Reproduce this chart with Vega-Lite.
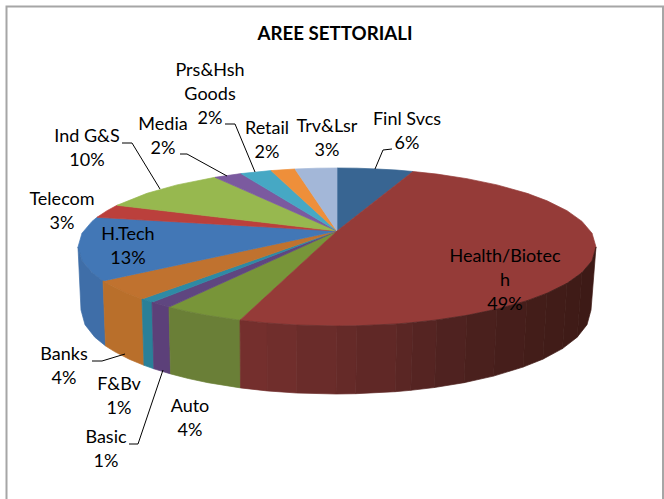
{"$schema":"https://vega.github.io/schema/vega-lite/v6.json","width":664,"height":499,"padding":0,"autosize":{"type":"none"},"background":"white","config":{"view":{"stroke":null},"font":"Lato"},"title":{"text":"AREE SETTORIALI","font":"Lato","fontSize":18.7,"fontWeight":"bold","color":"#000000","anchor":"middle","dy":48,"dx":3},"datasets":{"frame":[{"i":0,"u":-330.5,"v":-268},{"i":1,"u":-330.5,"v":224.5},{"i":2,"u":326,"v":224.5},{"i":3,"u":326,"v":-268}],"pieces":[
{"p":"Finl Svcs","i":0,"u":0,"v":0},{"p":"Finl Svcs","i":1,"u":0,"v":63},{"p":"Finl Svcs","i":2,"u":20,"v":62.8},{"p":"Finl Svcs","i":3,"u":40,"v":62},{"p":"Finl Svcs","i":4,"u":60,"v":60.9},{"p":"Finl Svcs","i":5,"u":76,"v":59.5},
{"p":"Auto","i":0,"u":0,"v":0},{"p":"Auto","i":1,"u":-97,"v":-89.2},{"p":"Auto","i":2,"u":-130,"v":-84.3},{"p":"Auto","i":3,"u":-150,"v":-80.4},{"p":"Auto","i":4,"u":-168,"v":-76.1},
{"p":"Basic","i":0,"u":0,"v":0},{"p":"Basic","i":1,"u":-168,"v":-76.1},{"p":"Basic","i":2,"u":-185,"v":-71.3},
{"p":"F&Bv","i":0,"u":0,"v":0},{"p":"F&Bv","i":1,"u":-185,"v":-71.3},{"p":"F&Bv","i":2,"u":-195,"v":-68},
{"p":"Banks","i":0,"u":0,"v":0},{"p":"Banks","i":1,"u":-195,"v":-68},{"p":"Banks","i":2,"u":-210,"v":-62.2},{"p":"Banks","i":3,"u":-225,"v":-55.1},{"p":"Banks","i":4,"u":-234,"v":-49.9},
{"p":"H.Tech","i":0,"u":0,"v":0},{"p":"H.Tech","i":1,"u":-234,"v":-49.9},{"p":"H.Tech","i":2,"u":-245,"v":-41.6},{"p":"H.Tech","i":3,"u":-255,"v":-29.8},{"p":"H.Tech","i":4,"u":-259,"v":-16},{"p":"H.Tech","i":5,"u":-255,"v":-2.2},{"p":"H.Tech","i":6,"u":-245,"v":9.6},{"p":"H.Tech","i":7,"u":-240,"v":13.7},
{"p":"Telecom","i":0,"u":0,"v":0},{"p":"Telecom","i":1,"u":-240,"v":13.7},{"p":"Telecom","i":2,"u":-230,"v":20.3},{"p":"Telecom","i":3,"u":-220,"v":25.7},
{"p":"Ind G&S","i":0,"u":0,"v":0},{"p":"Ind G&S","i":1,"u":-220,"v":25.7},{"p":"Ind G&S","i":2,"u":-190,"v":37.7},{"p":"Ind G&S","i":3,"u":-160,"v":46.1},{"p":"Ind G&S","i":4,"u":-122,"v":53.7},
{"p":"Media","i":0,"u":0,"v":0},{"p":"Media","i":1,"u":-122,"v":53.7},{"p":"Media","i":2,"u":-96,"v":57.4},
{"p":"Prs&Hsh Goods","i":0,"u":0,"v":0},{"p":"Prs&Hsh Goods","i":1,"u":-96,"v":57.4},{"p":"Prs&Hsh Goods","i":2,"u":-66,"v":60.4},
{"p":"Retail","i":0,"u":0,"v":0},{"p":"Retail","i":1,"u":-66,"v":60.4},{"p":"Retail","i":2,"u":-42,"v":62},
{"p":"Trv&Lsr","i":0,"u":0,"v":0},{"p":"Trv&Lsr","i":1,"u":-42,"v":62},{"p":"Trv&Lsr","i":2,"u":-20,"v":62.8},{"p":"Trv&Lsr","i":3,"u":0,"v":63},
{"p":"Health/Biotech","i":0,"u":0,"v":0},{"p":"Health/Biotech","i":1,"u":76,"v":59.5},{"p":"Health/Biotech","i":2,"u":100,"v":56.9},{"p":"Health/Biotech","i":3,"u":130,"v":52.3},{"p":"Health/Biotech","i":4,"u":160,"v":46.1},{"p":"Health/Biotech","i":5,"u":190,"v":37.7},{"p":"Health/Biotech","i":6,"u":210,"v":30.2},{"p":"Health/Biotech","i":7,"u":230,"v":20.3},{"p":"Health/Biotech","i":8,"u":245,"v":9.6},{"p":"Health/Biotech","i":9,"u":255,"v":-2.2},{"p":"Health/Biotech","i":10,"u":259,"v":-16},{"p":"Health/Biotech","i":11,"u":255,"v":-29.8},{"p":"Health/Biotech","i":12,"u":245,"v":-41.6},{"p":"Health/Biotech","i":13,"u":230,"v":-52.3},{"p":"Health/Biotech","i":14,"u":210,"v":-62.2},{"p":"Health/Biotech","i":15,"u":190,"v":-69.7},{"p":"Health/Biotech","i":16,"u":160,"v":-78.1},{"p":"Health/Biotech","i":17,"u":130,"v":-84.3},{"p":"Health/Biotech","i":18,"u":100,"v":-88.9},{"p":"Health/Biotech","i":19,"u":60,"v":-92.9},{"p":"Health/Biotech","i":20,"u":20,"v":-94.8},{"p":"Health/Biotech","i":21,"u":0,"v":-95},{"p":"Health/Biotech","i":22,"u":-40,"v":-94},{"p":"Health/Biotech","i":23,"u":-70,"v":-92},{"p":"Health/Biotech","i":24,"u":-97,"v":-89.2},
{"p":"H.Tech side","i":0,"u":-259,"v":-16},{"p":"H.Tech side","i":1,"u":-255,"v":-29.8},{"p":"H.Tech side","i":2,"u":-245,"v":-41.6},{"p":"H.Tech side","i":3,"u":-234,"v":-49.9},{"p":"H.Tech side","i":4,"u":-231.4,"v":-115},{"p":"H.Tech side","i":5,"u":-242.2,"v":-106.2},{"p":"H.Tech side","i":6,"u":-252,"v":-93.7},{"p":"H.Tech side","i":7,"u":-256,"v":-79},
{"p":"Banks side","i":0,"u":-234,"v":-49.9},{"p":"Banks side","i":1,"u":-225,"v":-55.1},{"p":"Banks side","i":2,"u":-210,"v":-62.2},{"p":"Banks side","i":3,"u":-195,"v":-68},{"p":"Banks side","i":4,"u":-193,"v":-134.3},{"p":"Banks side","i":5,"u":-207.8,"v":-128.2},{"p":"Banks side","i":6,"u":-222.5,"v":-120.6},{"p":"Banks side","i":7,"u":-231.4,"v":-115},
{"p":"F&Bv side","i":0,"u":-195,"v":-68},{"p":"F&Bv side","i":1,"u":-185,"v":-71.3},{"p":"F&Bv side","i":2,"u":-183.2,"v":-137.8},{"p":"F&Bv side","i":3,"u":-193,"v":-134.3},
{"p":"Basic side","i":0,"u":-185,"v":-71.3},{"p":"Basic side","i":1,"u":-168,"v":-76.1},{"p":"Basic side","i":2,"u":-166.4,"v":-142.9},{"p":"Basic side","i":3,"u":-183.2,"v":-137.8},
{"p":"Auto side","i":0,"u":-168,"v":-76.1},{"p":"Auto side","i":1,"u":-150,"v":-80.4},{"p":"Auto side","i":2,"u":-130,"v":-84.3},{"p":"Auto side","i":3,"u":-97,"v":-89.2},{"p":"Auto side","i":4,"u":-96.5,"v":-156.9},{"p":"Auto side","i":5,"u":-129,"v":-151.7},{"p":"Auto side","i":6,"u":-148.7,"v":-147.5},{"p":"Auto side","i":7,"u":-166.4,"v":-142.9},
{"p":"Health side 01","i":0,"u":-97,"v":-89.2},{"p":"Health side 01","i":1,"u":-70,"v":-92},{"p":"Health side 01","i":2,"u":-69.9,"v":-159.9},{"p":"Health side 01","i":3,"u":-96.5,"v":-156.9},
{"p":"Health side 02","i":0,"u":-70,"v":-92},{"p":"Health side 02","i":1,"u":-40,"v":-94},{"p":"Health side 02","i":2,"u":-40.4,"v":-162},{"p":"Health side 02","i":3,"u":-69.9,"v":-159.9},
{"p":"Health side 03","i":0,"u":-40,"v":-94},{"p":"Health side 03","i":1,"u":0,"v":-95},{"p":"Health side 03","i":2,"u":-1,"v":-163},{"p":"Health side 03","i":3,"u":-40.4,"v":-162},
{"p":"Health side 04","i":0,"u":0,"v":-95},{"p":"Health side 04","i":1,"u":20,"v":-94.8},{"p":"Health side 04","i":2,"u":18.7,"v":-162.7},{"p":"Health side 04","i":3,"u":-1,"v":-163},
{"p":"Health side 05","i":0,"u":20,"v":-94.8},{"p":"Health side 05","i":1,"u":60,"v":-92.9},{"p":"Health side 05","i":2,"u":58.1,"v":-160.7},{"p":"Health side 05","i":3,"u":18.7,"v":-162.7},
{"p":"Health side 06","i":0,"u":60,"v":-92.9},{"p":"Health side 06","i":1,"u":76,"v":-91.5},{"p":"Health side 06","i":2,"u":73.8,"v":-159.3},{"p":"Health side 06","i":3,"u":58.1,"v":-160.7},
{"p":"Health side 07","i":0,"u":76,"v":-91.5},{"p":"Health side 07","i":1,"u":100,"v":-88.9},{"p":"Health side 07","i":2,"u":97.5,"v":-156.5},{"p":"Health side 07","i":3,"u":73.8,"v":-159.3},
{"p":"Health side 08","i":0,"u":100,"v":-88.9},{"p":"Health side 08","i":1,"u":130,"v":-84.3},{"p":"Health side 08","i":2,"u":127,"v":-151.7},{"p":"Health side 08","i":3,"u":97.5,"v":-156.5},
{"p":"Health side 09","i":0,"u":130,"v":-84.3},{"p":"Health side 09","i":1,"u":160,"v":-78.1},{"p":"Health side 09","i":2,"u":156.5,"v":-145.1},{"p":"Health side 09","i":3,"u":127,"v":-151.7},
{"p":"Health side 10","i":0,"u":160,"v":-78.1},{"p":"Health side 10","i":1,"u":190,"v":-69.7},{"p":"Health side 10","i":2,"u":186,"v":-136.1},{"p":"Health side 10","i":3,"u":156.5,"v":-145.1},
{"p":"Health side 11","i":0,"u":190,"v":-69.7},{"p":"Health side 11","i":1,"u":210,"v":-62.2},{"p":"Health side 11","i":2,"u":205.8,"v":-128.2},{"p":"Health side 11","i":3,"u":186,"v":-136.1},
{"p":"Health side 12","i":0,"u":210,"v":-62.2},{"p":"Health side 12","i":1,"u":230,"v":-52.3},{"p":"Health side 12","i":2,"u":225.5,"v":-117.6},{"p":"Health side 12","i":3,"u":205.8,"v":-128.2},
{"p":"Health side 13","i":0,"u":230,"v":-52.3},{"p":"Health side 13","i":1,"u":245,"v":-41.6},{"p":"Health side 13","i":2,"u":240.2,"v":-106.2},{"p":"Health side 13","i":3,"u":225.5,"v":-117.6},
{"p":"Health side 14","i":0,"u":245,"v":-41.6},{"p":"Health side 14","i":1,"u":255,"v":-29.8},{"p":"Health side 14","i":2,"u":259,"v":-16},{"p":"Health side 14","i":3,"u":254,"v":-79},{"p":"Health side 14","i":4,"u":250,"v":-93.7},{"p":"Health side 14","i":5,"u":240.2,"v":-106.2}
],"leaders":[
{"l":"Ind G&S","i":0,"u":-215,"v":88},{"l":"Ind G&S","i":1,"u":-205,"v":88},{"l":"Ind G&S","i":2,"u":-177,"v":42},
{"l":"Media","i":0,"u":-157,"v":77},{"l":"Media","i":1,"u":-150,"v":77},{"l":"Media","i":2,"u":-110,"v":55},
{"l":"Prs","i":0,"u":-112,"v":107},{"l":"Prs","i":1,"u":-102,"v":107},{"l":"Prs","i":2,"u":-82,"v":59},
{"l":"Finl","i":0,"u":55,"v":82},{"l":"Finl","i":1,"u":46,"v":81},{"l":"Finl","i":2,"u":38,"v":62},
{"l":"Banks","i":0,"u":-245,"v":-130},{"l":"Banks","i":1,"u":-235,"v":-130},{"l":"Banks","i":2,"u":-212,"v":-123},
{"l":"Basic","i":0,"u":-208,"v":-213},{"l":"Basic","i":1,"u":-199,"v":-213},{"l":"Basic","i":2,"u":-174,"v":-139}
],"labels":[
{"t":"Finl Svcs\n6%","u":70,"v":111},{"t":"Trv&Lsr\n3%","u":-10,"v":104},{"t":"Retail\n2%","u":-70,"v":102},{"t":"Prs&Hsh\nGoods\n2%","u":-127,"v":160},{"t":"Media\n2%","u":-174,"v":106},{"t":"Ind G&S\n10%","u":-250,"v":94},{"t":"Telecom\n3%","u":-275,"v":31},{"t":"H.Tech\n13%","u":-209,"v":-4},{"t":"Health/Biotec\nh\n49%","u":168,"v":-26},{"t":"Banks\n4%","u":-273,"v":-124},{"t":"F&Bv\n1%","u":-218,"v":-154},{"t":"Basic\n1%","u":-231,"v":-207},{"t":"Auto\n4%","u":-147,"v":-176}
]},"encoding":{"x":{"field":"u","type":"quantitative","scale":{"domain":[-337,327],"nice":false,"zero":false},"axis":null},"y":{"field":"v","type":"quantitative","scale":{"domain":[-268,231],"nice":false,"zero":false},"axis":null}},"layer":[
{"data":{"name":"frame"},"mark":{"type":"line","stroke":"#a6a6a6","strokeWidth":2},"encoding":{"order":{"field":"i"}}},
{"data":{"name":"pieces"},"mark":{"type":"line","filled":true,"interpolate":"linear-closed","strokeWidth":0.7},"encoding":{"order":{"field":"i"},"detail":{"field":"p"},"fill":{"field":"p","type":"nominal","legend":null,"scale":{"domain":["Finl Svcs","Health/Biotech","Auto","Basic","F&Bv","Banks","H.Tech","Telecom","Ind G&S","Media","Prs&Hsh Goods","Retail","Trv&Lsr","Auto side","Basic side","F&Bv side","Banks side","H.Tech side","Health side 01","Health side 02","Health side 03","Health side 04","Health side 05","Health side 06","Health side 07","Health side 08","Health side 09","Health side 10","Health side 11","Health side 12","Health side 13","Health side 14"],"range":["#386592","#953b38","#789539","#5f4680","#2e8aa5","#c0722f","#4277b6","#bb403c","#97b84f","#7b5a9f","#46a8c4","#ee8f3a","#a3b7d8","#6a7f37","#5c4079","#2a8098","#b96f2b","#3f6ea8","#742f2d","#702e2c","#6a2c2a","#652a28","#602826","#5a2624","#552422","#4f2220","#4a201d","#461e1b","#431d19","#411c18","#3f1b17","#3d1a16"]}},"stroke":{"field":"p","type":"nominal","legend":null,"scale":{"domain":["Finl Svcs","Health/Biotech","Auto","Basic","F&Bv","Banks","H.Tech","Telecom","Ind G&S","Media","Prs&Hsh Goods","Retail","Trv&Lsr","Auto side","Basic side","F&Bv side","Banks side","H.Tech side","Health side 01","Health side 02","Health side 03","Health side 04","Health side 05","Health side 06","Health side 07","Health side 08","Health side 09","Health side 10","Health side 11","Health side 12","Health side 13","Health side 14"],"range":["#386592","#953b38","#789539","#5f4680","#2e8aa5","#c0722f","#4277b6","#bb403c","#97b84f","#7b5a9f","#46a8c4","#ee8f3a","#a3b7d8","#6a7f37","#5c4079","#2a8098","#b96f2b","#3f6ea8","#742f2d","#702e2c","#6a2c2a","#652a28","#602826","#5a2624","#552422","#4f2220","#4a201d","#461e1b","#431d19","#411c18","#3f1b17","#3d1a16"]}}}},
{"data":{"name":"leaders"},"mark":{"type":"line","stroke":"#000000","strokeWidth":1},"encoding":{"order":{"field":"i"},"detail":{"field":"l"}}},
{"data":{"name":"labels"},"mark":{"type":"text","font":"Lato","fontSize":18,"lineBreak":"\n","lineHeight":24,"align":"center","baseline":"middle","color":"#000000"},"encoding":{"text":{"field":"t"}}}
]}
